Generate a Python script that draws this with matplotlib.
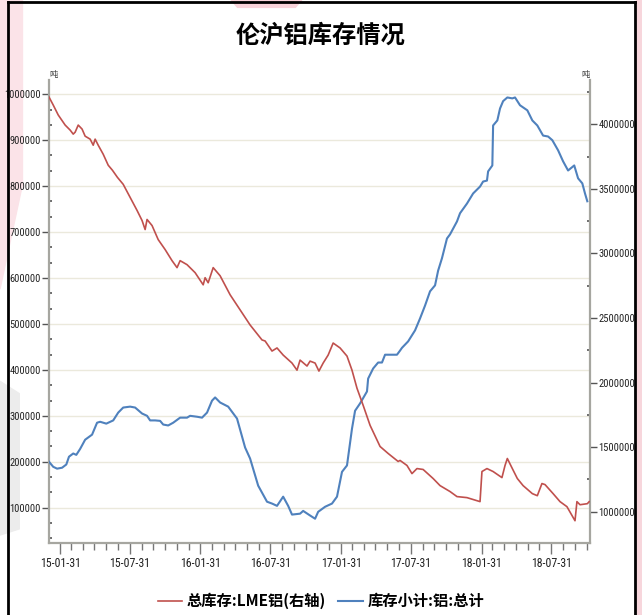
import matplotlib
matplotlib.use("Agg")
import pandas as pd
import matplotlib.pyplot as plt
import matplotlib.dates as mdates
from matplotlib import font_manager
from matplotlib.ticker import MultipleLocator, FixedLocator, FuncFormatter
from matplotlib.patches import Polygon
from matplotlib.lines import Line2D

# 库存小计:铝:总计 (left axis, tonnes)
blue_dates = [
    "2015-01-02", "2015-01-13", "2015-01-23", "2015-02-05", "2015-02-16", "2015-02-23",
    "2015-03-06", "2015-03-14", "2015-03-24", "2015-04-06", "2015-04-24", "2015-05-07",
    "2015-05-15", "2015-05-31", "2015-06-18", "2015-07-01", "2015-07-14", "2015-08-01",
    "2015-08-14", "2015-09-01", "2015-09-14", "2015-09-22", "2015-10-05", "2015-10-18",
    "2015-10-26", "2015-11-08", "2015-11-21", "2015-12-09", "2015-12-27", "2016-01-04",
    "2016-01-22", "2016-02-04", "2016-02-17", "2016-03-01", "2016-03-09", "2016-03-22",
    "2016-04-12", "2016-05-05", "2016-05-26", "2016-06-08", "2016-06-29", "2016-07-22",
    "2016-08-04", "2016-08-17", "2016-09-02", "2016-09-15", "2016-09-25", "2016-10-16",
    "2016-10-24", "2016-11-11", "2016-11-24", "2016-12-02", "2016-12-20", "2017-01-07",
    "2017-01-20", "2017-02-02", "2017-02-15", "2017-02-28", "2017-03-08", "2017-03-21",
    "2017-04-08", "2017-04-11", "2017-04-24", "2017-05-07", "2017-05-17", "2017-05-25",
    "2017-06-25", "2017-07-03", "2017-07-08", "2017-07-24", "2017-08-11", "2017-08-24",
    "2017-09-06", "2017-09-19", "2017-10-02", "2017-10-10", "2017-10-20", "2017-11-02",
    "2017-11-10", "2017-11-28", "2017-12-06", "2017-12-24", "2018-01-09", "2018-01-27",
    "2018-02-04", "2018-02-14", "2018-02-17", "2018-02-28", "2018-03-02", "2018-03-13",
    "2018-03-20", "2018-03-28", "2018-04-08", "2018-04-21", "2018-04-28", "2018-05-11",
    "2018-05-30", "2018-06-12", "2018-06-25", "2018-07-10", "2018-07-23", "2018-08-03",
    "2018-08-18", "2018-08-31", "2018-09-13", "2018-09-29", "2018-10-09", "2018-10-20",
    "2018-10-27", "2018-11-02",
]
blue_vals = [
    200000, 189000, 185000, 187000, 194000, 211000,
    218000, 215000, 228000, 248000, 259000, 285000,
    287000, 283000, 290000, 307000, 318000, 320000,
    318000, 305000, 300000, 290000, 290000, 289000,
    281000, 279000, 285000, 296000, 296000, 300000,
    298000, 296000, 307000, 333000, 340000, 329000,
    320000, 294000, 231000, 207000, 148000, 113000,
    109000, 104000, 124000, 104000, 85000, 87000,
    93000, 83000, 76000, 91000, 102000, 109000,
    124000, 178000, 192000, 272000, 311000, 327000,
    353000, 381000, 403000, 416000, 416000, 433000,
    433000, 442000, 448000, 462000, 486000, 512000,
    540000, 571000, 584000, 616000, 643000, 686000,
    695000, 723000, 741000, 762000, 784000, 799000,
    810000, 812000, 832000, 845000, 932000, 943000,
    969000, 985000, 993000, 991000, 993000, 976000,
    965000, 943000, 932000, 910000, 908000, 900000,
    878000, 854000, 834000, 845000, 817000, 806000,
    784000, 767000,
]

# 总库存:LME铝 (right axis, tonnes)
red_dates = [
    "2015-01-02", "2015-01-13", "2015-01-26", "2015-02-13", "2015-02-26", "2015-03-06",
    "2015-03-11", "2015-03-19", "2015-03-29", "2015-04-06", "2015-04-19", "2015-04-27",
    "2015-05-02", "2015-05-10", "2015-05-23", "2015-06-05", "2015-06-16", "2015-06-29",
    "2015-07-14", "2015-08-01", "2015-08-19", "2015-09-01", "2015-09-09", "2015-09-14",
    "2015-09-27", "2015-10-13", "2015-10-31", "2015-11-18", "2015-12-01", "2015-12-09",
    "2015-12-27", "2016-01-17", "2016-02-07", "2016-02-12", "2016-02-20", "2016-03-04",
    "2016-03-22", "2016-04-17", "2016-05-13", "2016-06-08", "2016-07-09", "2016-07-17",
    "2016-08-04", "2016-08-17", "2016-09-02", "2016-09-25", "2016-10-08", "2016-10-16",
    "2016-11-03", "2016-11-11", "2016-11-24", "2016-12-04", "2016-12-15", "2016-12-28",
    "2017-01-10", "2017-01-28", "2017-02-15", "2017-02-28", "2017-03-13", "2017-03-29",
    "2017-04-16", "2017-05-12", "2017-06-02", "2017-06-28", "2017-07-03", "2017-07-21",
    "2017-08-03", "2017-08-16", "2017-09-01", "2017-09-27", "2017-10-15", "2017-11-10",
    "2017-11-28", "2017-12-24", "2018-01-27", "2018-02-01", "2018-02-14", "2018-03-02",
    "2018-03-25", "2018-04-02", "2018-04-08", "2018-04-21", "2018-05-04", "2018-05-19",
    "2018-06-12", "2018-06-25", "2018-07-07", "2018-07-15", "2018-08-05", "2018-08-23",
    "2018-09-10", "2018-10-01", "2018-10-06", "2018-10-14", "2018-11-02", "2018-11-07",
]
red_vals = [
    4211000, 4149000, 4072000, 3994000, 3955000, 3924000,
    3939000, 3994000, 3963000, 3908000, 3885000, 3838000,
    3885000, 3838000, 3768000, 3683000, 3644000, 3589000,
    3535000, 3434000, 3333000, 3255000, 3185000, 3263000,
    3216000, 3107000, 3030000, 2944000, 2890000, 2944000,
    2913000, 2851000, 2757000, 2812000, 2773000, 2890000,
    2827000, 2680000, 2563000, 2446000, 2330000, 2322000,
    2244000, 2268000, 2213000, 2151000, 2096000, 2174000,
    2128000, 2166000, 2151000, 2089000, 2151000, 2213000,
    2306000, 2268000, 2205000, 2096000, 1956000, 1824000,
    1669000, 1505000, 1451000, 1389000, 1397000, 1358000,
    1295000, 1334000, 1327000, 1257000, 1202000, 1156000,
    1117000, 1109000, 1078000, 1311000, 1334000, 1311000,
    1264000, 1358000, 1412000, 1334000, 1257000, 1202000,
    1140000, 1124000, 1218000, 1210000, 1140000, 1078000,
    1039000, 930000, 1078000, 1054000, 1062000, 1078000,
]

title = "伦沪铝库存情况"
red_label = "总库存:LME铝(右轴)"
blue_label = "库存小计:铝:总计"
unit = "吨"

names = {f.name for f in font_manager.fontManager.ttflist}
NUM_FONT, Y_SIZE, X_SIZE, NUM_STRETCH = "DejaVu Sans", 6.7, 7.6, "condensed"
for cand in ("Liberation Sans Narrow", "Roboto Condensed", "Open Sans Condensed"):
    if cand in names:
        NUM_FONT, Y_SIZE, X_SIZE, NUM_STRETCH = cand, 7.6, 8.6, "normal"
        break
CJK = ["Noto Sans CJK SC", "DejaVu Sans"]

RED = "#c0504d"
BLUE = "#4f81bd"
AXC = "#a6a6a0"

fig = plt.figure(figsize=(6.42, 6.15), dpi=100)
fig.patch.set_facecolor("white")

# faint watermark remnants round the frame
wm = [
    ([(0, 1), (0.035, 1), (0.035, 0.70), (0, 0.53)], "#fbe3e8"),
    ([(0, 0.38), (0.03, 0.36), (0.03, 0.14), (0, 0.13)], "#ececec"),
    ([(0.36, 1), (0.47, 1), (0.46, 0.988), (0.37, 0.988)], "#f9d3da"),
    ([(0.99, 1), (1, 1), (1, 0), (0.99, 0)], "#f7d6dc"),
]
for pts, c in wm:
    fig.patches.append(Polygon(pts, closed=True, transform=fig.transFigure,
                               color=c, zorder=-5))

# black frame (left, top, right)
for xs, ys in [([0.0125, 0.0125], [0, 0.997]),
               ([0.0125, 0.989], [0.997, 0.997]),
               ([0.989, 0.989], [0, 0.997])]:
    fig.lines.append(Line2D(xs, ys, transform=fig.transFigure, color="black", lw=2))

ax = fig.add_axes([49 / 642, 1 - 543 / 615, (590 - 49) / 642, (543 - 80) / 615])
ax.set_facecolor("none")
ax2 = ax.twinx()

bd = pd.to_datetime(blue_dates)
rd = pd.to_datetime(red_dates)
lb, = ax.plot(bd, blue_vals, color=BLUE, lw=1.5, zorder=3)
lr, = ax2.plot(rd, red_vals, color=RED, lw=1.2, zorder=3)

ax.set_xlim(pd.Timestamp("2015-01-02"), pd.Timestamp("2018-11-09"))
ax.set_ylim(23150, 1031000)
ax2.set_ylim(757600, 4343000)

majors = pd.date_range("2015-01-31", "2018-07-31", freq="6ME")
minors = pd.date_range("2015-01-31", "2018-10-31", freq="ME")
ax.xaxis.set_major_locator(FixedLocator(mdates.date2num(majors)))
ax.xaxis.set_minor_locator(FixedLocator(mdates.date2num(minors)))
ax.xaxis.set_major_formatter(mdates.DateFormatter("%y-%m-%d"))

ax.yaxis.set_major_locator(MultipleLocator(100000))
ax.yaxis.set_minor_locator(MultipleLocator(100000 / 3))
ax2.yaxis.set_major_locator(MultipleLocator(500000))
ax2.yaxis.set_minor_locator(MultipleLocator(250000))
fmt = FuncFormatter(lambda v, p: "%d" % round(v))
ax.yaxis.set_major_formatter(fmt)
ax2.yaxis.set_major_formatter(fmt)

ax.grid(axis="y", which="major", color="#ebe9dc", lw=1)

for a in (ax, ax2):
    a.spines["top"].set_visible(False)
    for s in ("left", "right", "bottom"):
        a.spines[s].set_color(AXC)
        a.spines[s].set_linewidth(1.6)
ax.spines["right"].set_visible(False)
ax2.spines["left"].set_visible(False)
ax2.spines["bottom"].set_visible(False)

ax.tick_params(axis="x", which="major", length=8, width=1, color="#777", pad=2)
ax.tick_params(axis="x", which="minor", length=5, width=1, color="#777")
ax.tick_params(axis="y", which="major", length=5, width=1, color="#555", pad=1)
ax.tick_params(axis="y", which="minor", length=2, width=1.2, color="#555", direction="in")
ax2.tick_params(axis="y", which="major", length=5, width=1, color="#555", pad=1)
ax2.tick_params(axis="y", which="minor", length=2, width=1.2, color="#555", direction="in")

for a in (ax, ax2):
    for lab in a.get_yticklabels():
        lab.set_fontfamily(NUM_FONT)
        lab.set_fontstretch(NUM_STRETCH)
        lab.set_fontsize(Y_SIZE)
        lab.set_color("#222")
for lab in ax.get_xticklabels():
    lab.set_fontfamily(NUM_FONT)
    lab.set_fontstretch(NUM_STRETCH)
    lab.set_fontsize(X_SIZE)
    lab.set_color("#222")

ax.text(0.0, 1.002, unit, transform=ax.transAxes, ha="left", va="bottom",
        fontsize=6, family=CJK, color="#333")
ax.text(1.0, 1.002, unit, transform=ax.transAxes, ha="right", va="bottom",
        fontsize=6, family=CJK, color="#333")

fig.text(0.5, 1 - 36 / 615, title, ha="center", va="center", fontsize=17.5,
         fontweight="bold", family=CJK)

fig.legend([lr, lb], [red_label, blue_label], loc="center",
           bbox_to_anchor=(0.5, 1 - 601 / 615), ncol=2, frameon=False,
           prop={"family": CJK, "size": 11, "weight": "bold"},
           handlelength=1.6, columnspacing=0.8, handletextpad=0.3)

fig.savefig("out.png", dpi=100)
